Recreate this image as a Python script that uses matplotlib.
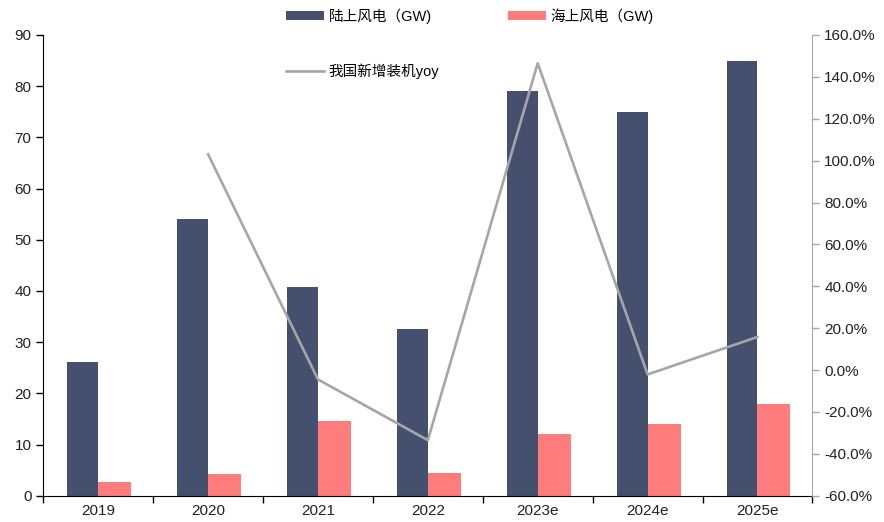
import matplotlib
matplotlib.use("Agg")
import matplotlib.pyplot as plt
import numpy as np
from matplotlib.ticker import FixedLocator, FuncFormatter

plt.rcParams['font.family'] = ['Liberation Sans', 'Noto Sans CJK SC', 'DejaVu Sans']

categories = ["2019", "2020", "2021", "2022", "2023e", "2024e", "2025e"]
onshore = [26.1, 54.0, 40.8, 32.5, 79.0, 75.0, 85.0]
offshore = [2.6, 4.2, 14.6, 4.5, 12.0, 14.0, 18.0]
yoy = [np.nan, 103.0, -4.5, -33.5, 146.5, -2.1, 15.8]

c_on = "#44506E"
c_off = "#FF7C7C"
c_line = "#A6A6A6"

fig = plt.figure(figsize=(8.84, 5.22), dpi=100)
ax = fig.add_axes([0.049, 0.0504, 0.870, 0.8826])
ax2 = ax.twinx()

x = np.arange(len(categories))
b1 = ax.bar(x, onshore, width=-0.28, align='edge', color=c_on, label="陆上风电（GW)", zorder=2)
b2 = ax.bar(x, offshore, width=0.30, align='edge', color=c_off, label="海上风电（GW)", zorder=2)
l1, = ax2.plot(x, yoy, color=c_line, lw=1.9, label="我国新增装机yoy", zorder=3)

ax.set_xlim(-0.5, len(categories) - 0.5)
ax.set_ylim(0, 90)
ax.set_yticks(np.arange(0, 91, 10))
ax2.set_ylim(-60, 160)
ax2.set_yticks(np.arange(-60, 161, 20))
ax2.yaxis.set_major_formatter(FuncFormatter(lambda v, p: f"{v:.1f}%"))

ax.set_xticks(x)
ax.set_xticklabels(categories)
ax.tick_params(axis='x', which='major', length=0, labelsize=11, pad=6, colors='#222222')
ax.xaxis.set_minor_locator(FixedLocator(np.arange(-0.5, len(categories), 1.0)))
ax.tick_params(axis='x', which='minor', length=5, width=1, color='black', direction='out')
ax.tick_params(axis='y', length=5, width=1, labelsize=11, labelcolor='#222222', direction='out')
ax2.tick_params(axis='y', length=5, width=1, color=c_line, labelsize=11, labelcolor='#222222', direction='out')

for s in ['top', 'right']:
    ax.spines[s].set_visible(False)
ax2.spines['top'].set_visible(False)
ax2.spines['left'].set_visible(False)
ax2.spines['bottom'].set_visible(False)
ax2.spines['right'].set_color(c_line)
ax.spines['left'].set_color('black')
ax.spines['bottom'].set_color('black')
ax.spines['bottom'].set_zorder(5)

leg = fig.legend(handles=[b1, l1, b2], loc='upper left', bbox_to_anchor=(0.309, 1.01),
                 ncol=2, frameon=False, fontsize=10.5, handlelength=2.6, handletextpad=0.3,
                 columnspacing=4.75, labelspacing=2.75, handleheight=0.6)

fig.savefig("out.png", dpi=100)
